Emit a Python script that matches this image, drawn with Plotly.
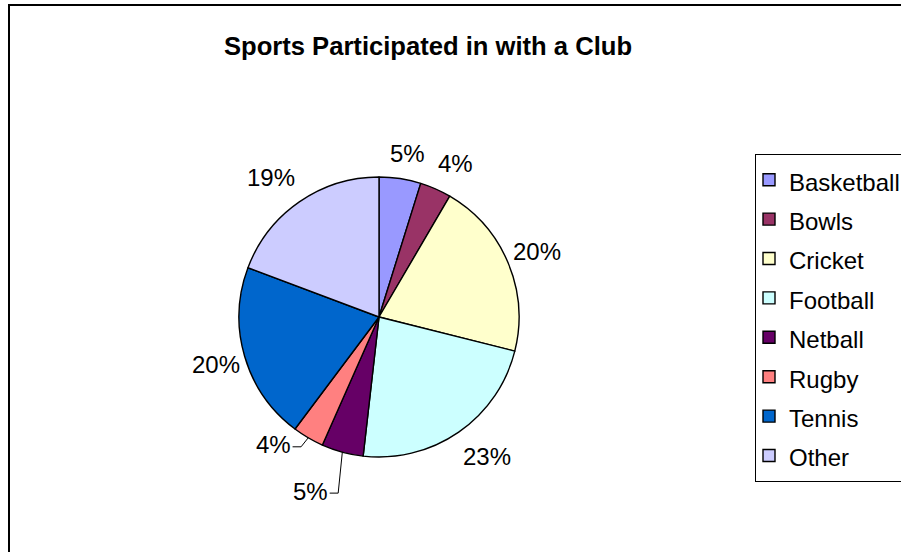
import numpy as np
import plotly.graph_objects as go

# ---- data (club participation counts) ----
categories = ["Basketball", "Bowls", "Cricket", "Football", "Netball", "Rugby", "Tennis", "Other"]
values = [4, 3, 17, 19, 4, 3, 17, 16]
colors = ["#9999FF", "#993366", "#FFFFCC", "#CCFFFF", "#660066", "#FF8080", "#0066CC", "#CCCCFF"]
title_text = "Sports Participated in with a Club"
# labels moved off the pie with leader lines (pixel offset of label centre from slice edge)
leader_offsets = {"Netball": (-32, 39), "Rugby": (-35, 7)}

# ---- geometry ----
W, H = 901, 552
CX, CY, R = 379, 317, 140
FONT = "Liberation Sans, Arial, Helvetica, sans-serif"
LBL_SIZE = 24


def px(x):
    return x / W


def py(y):
    return 1 - y / H


total = float(sum(values))
pcts = [f"{round(v / total * 100)}%" for v in values]
mid = (np.cumsum(values) - np.array(values) / 2.0) / total * 2 * np.pi

fig = go.Figure(
    go.Pie(
        labels=[f'<span style="font-size:24px">{c}</span>' for c in categories],
        values=values,
        sort=False,
        direction="clockwise",
        rotation=0,
        marker=dict(colors=colors, line=dict(color="black", width=1.4)),
        textinfo="none",
        hoverinfo="percent+value",
        domain=dict(x=[px(CX - R), px(CX + R)], y=[py(CY + R), py(CY - R)]),
    )
)

annotations = []
shapes = []
for cat, lab, a in zip(categories, pcts, mid):
    s, c = np.sin(a), np.cos(a)
    ex, ey = CX + R * s, CY - R * c
    w = (0.556 * (len(lab) - 1) + 0.889) * LBL_SIZE
    if cat in leader_offsets:
        dx, dy = leader_offsets[cat]
        lx, ly = ex + dx, ey + dy
        right = lx + w / 2 + 2
        shapes.append(dict(
            type="path", xref="paper", yref="paper",
            path=f"M{px(ex)},{py(ey)} L{px(right + 8.5)},{py(ly + 2)} L{px(right)},{py(ly + 2)}",
            line=dict(color="black", width=1),
        ))
    else:
        ox = float(np.clip(s * 50, -(w / 2 + 5), w / 2 + 5))
        oy = float(np.clip(-c * 30, -25, 25))
        lx, ly = ex + ox, ey + oy
    annotations.append(dict(
        x=px(lx), y=py(ly), xref="paper", yref="paper", text=lab, showarrow=False,
        xanchor="center", yanchor="middle", font=dict(family=FONT, size=LBL_SIZE, color="black"),
    ))

# chart border
shapes.append(dict(type="rect", xref="paper", yref="paper",
                   x0=px(9), x1=px(W + 20), y0=py(H + 20), y1=py(5),
                   line=dict(color="black", width=2), fillcolor="rgba(0,0,0,0)", layer="above"))

fig.update_layout(
    width=W, height=H,
    margin=dict(l=0, r=0, t=0, b=0, autoexpand=False),
    paper_bgcolor="white", plot_bgcolor="white",
    font=dict(family=FONT, color="black"),
    title=dict(text=f"<b>{title_text}</b>", x=px(428), xanchor="center", y=py(46), yanchor="middle",
               yref="container", xref="container", font=dict(family=FONT, size=25.6, color="black")),
    legend=dict(x=px(755), y=py(154), xanchor="left", yanchor="top",
                font=dict(family=FONT, size=28, color="black"),
                bordercolor="black", borderwidth=1, bgcolor="white", indentation=-7),
    annotations=annotations,
    shapes=shapes,
    showlegend=True,
)

fig.write_html(
    "out.html",
    config={"displayModeBar": False},
    post_script="document.body.style.margin='0';document.body.style.overflow='hidden';",
)
